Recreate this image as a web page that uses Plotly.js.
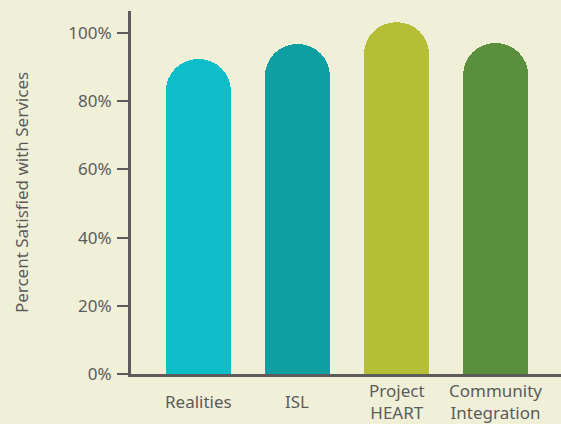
<!DOCTYPE html>
<html>
<head>
<meta charset="utf-8">
<script src="https://cdn.plot.ly/plotly-3.0.1.min.js"></script>
<style>html,body{margin:0;padding:0;background:#f0f0d9;}#chart{width:561px;height:424px;}</style>
</head>
<body>
<div id="chart"></div>
<script>
const categories = ["Realities", "ISL", "Project<br>HEART", "Community<br>Integration"];
const satisfied = [92.4, 96.8, 103.2, 97.1];
const barColors = ["#0dbdc9", "#0d9fa1", "#b5bf35", "#5a8f3e"];
const yTickVals = [0, 20, 40, 60, 80, 100];
const yTickText = ["0%", "20%", "40%", "60%", "80%", "100%"];

const textColor = "#5b5b5b";
const fontFamily = "'Noto Sans', 'Open Sans', sans-serif";
const xIdx = categories.map((c, i) => i);

const trace = {
  type: "bar",
  x: xIdx,
  y: satisfied,
  width: 0.656,
  marker: { color: barColors, cornerradius: "50%", line: { width: 0 } },
  hoverinfo: "skip"
};

const annotations = categories.map((c, i) => ({
  x: i, xref: "x", y: -0.076, yref: "paper",
  text: c, showarrow: false, xanchor: "center", yanchor: "middle",
  font: { family: fontFamily, size: 17, color: textColor }, align: "center"
}));

const layout = {
  width: 561, height: 424,
  margin: { l: 131, r: 0, t: 11, b: 50 },
  paper_bgcolor: "#f0f0d9",
  plot_bgcolor: "#f0f0d9",
  showlegend: false,
  bargap: 0,
  xaxis: {
    range: [-0.68, 3.66], showgrid: false, zeroline: false,
    showticklabels: false, ticks: "",
    showline: true, linecolor: "#5b5b5b", linewidth: 3, fixedrange: true
  },
  yaxis: {
    range: [0, 106.5], showgrid: false, zeroline: false,
    tickvals: yTickVals, ticktext: yTickText,
    ticks: "outside", ticklen: 11, tickwidth: 2, tickcolor: "#5b5b5b",
    ticklabelstandoff: 2,
    showline: true, linecolor: "#5b5b5b", linewidth: 3,
    tickfont: { family: fontFamily, size: 17, color: textColor },
    title: { text: "Percent Satisfied with Services", standoff: 36,
      font: { family: fontFamily, size: 17, color: textColor } },
    fixedrange: true
  },
  annotations: annotations
};

Plotly.newPlot("chart", [trace], layout, { displayModeBar: false, staticPlot: true });
</script>
</body>
</html>
